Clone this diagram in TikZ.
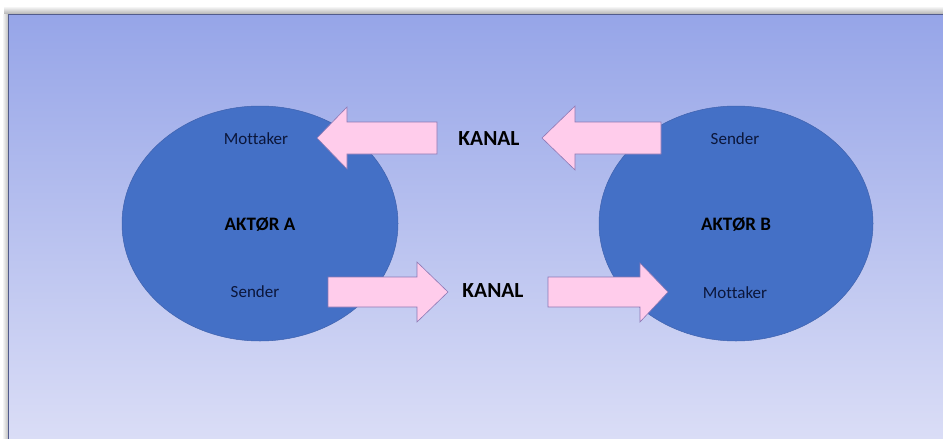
\documentclass[tikz,border=0pt]{standalone}
\usepackage{fontspec}
\setmainfont{Carlito}[Ligatures=NoCommon]
\begin{document}
\begin{tikzpicture}[x=1pt,y=-1pt,
  actor/.style={fill=ellblue,draw=elledge,line width=0.5pt},
  pinkarrow/.style={fill=arrpink,draw=arredge,line width=0.6pt,line join=miter},
  small/.style={inner sep=0pt,text depth=0pt,text=navy,font=\fontsize{17}{19}\selectfont},
  big/.style={inner sep=0pt,text depth=0pt,text=black,font=\fontsize{19}{21}\selectfont\bfseries},
  kanal/.style={inner sep=0pt,text depth=0pt,text=black,font=\fontsize{21.5}{24}\selectfont\bfseries}]
\definecolor{ellblue}{HTML}{4470C6}
\definecolor{elledge}{HTML}{3F62AE}
\definecolor{arrpink}{HTML}{FFCCEB}
\definecolor{arredge}{HTML}{8C78B4}
\definecolor{navy}{HTML}{0B163A}
\definecolor{bgtop}{HTML}{96A5E8}
\definecolor{bgbot}{HTML}{DADDF6}
\definecolor{edgeline}{HTML}{525C8C}
\useasboundingbox (0,0) rectangle (943,439);
\clip (0,0) rectangle (943,439);
\fill[white] (0,0) rectangle (943,439);
% soft shadow
\shade[top color=white,bottom color=black!30] (4,6) rectangle (943,14);
\shade[left color=white,right color=black!25] (2,14) rectangle (8,439);
\fill[bgbot] (8,14) rectangle (943,439);
\shade[top color=bgtop,bottom color=bgbot] (8,14) rectangle (943,439);
\draw[edgeline,line width=1.2pt] (8.5,439) -- (8.5,14.5) -- (943,14.5);
% ellipses
\path[actor] (260,223.5) ellipse [x radius=138,y radius=117.5];
\path[actor] (736,223.5) ellipse [x radius=137,y radius=117.5];
\node[small] (mA) at (256,139) {Mottaker};
\node[big]   (aA) at (260,224) {AKTØR A};
\node[small] (sA) at (255,292) {Sender};
\node[small] (sB) at (735,139) {Sender};
\node[big]   (aB) at (736,224) {AKTØR B};
\node[small] (mB) at (735,293) {Mottaker};
\node[kanal] (k1) at (489,139) {KANAL};
\node[kanal] (k2) at (493,291) {KANAL};
% block arrows
\draw[pinkarrow] (317,138) -- (347,107) -- (347,122) -- (437,122) -- (437,154) -- (347,154) -- (347,169) -- cycle;
\draw[pinkarrow] (542,138) -- (575,106) -- (575,122) -- (661,122) -- (661,154) -- (575,154) -- (575,170) -- cycle;
\draw[pinkarrow] (448,292) -- (417,262) -- (417,277) -- (328,277) -- (328,307) -- (417,307) -- (417,322) -- cycle;
\draw[pinkarrow] (668,292) -- (640,263) -- (640,277) -- (548,277) -- (548,307) -- (640,307) -- (640,322) -- cycle;
\end{tikzpicture}
\end{document}
